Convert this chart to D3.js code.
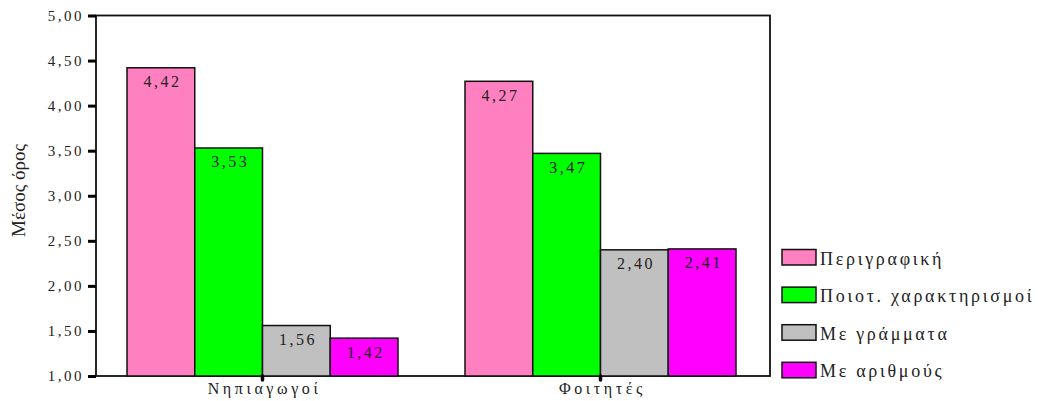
<!DOCTYPE html>
<html>
<head>
<meta charset="utf-8">
<script src="https://cdn.jsdelivr.net/npm/d3@7"></script>
<style>
  body { margin: 0; background: #fff; }
  text { font-family: "Liberation Serif", "DejaVu Serif", serif; fill: #222; }
</style>
</head>
<body>
<svg width="1047" height="401"></svg>
<script>
var categories = ["Νηπιαγωγοί", "Φοιτητές"];
var seriesNames = ["Περιγραφική", "Ποιοτ. χαρακτηρισμοί", "Με γράμματα", "Με αριθμούς"];
var seriesColors = ["#ff80c0", "#00ff00", "#c0c0c0", "#ff00ff"];
var nipiagogoi = [4.42, 3.53, 1.56, 1.42];
var foitites = [4.27, 3.47, 2.40, 2.41];
var yTicks = [1, 1.5, 2, 2.5, 3, 3.5, 4, 4.5, 5];

var values = [nipiagogoi, foitites];
var fmt = function(v) { return v.toFixed(2).replace(".", ","); };

var svg = d3.select("svg");
var plotLeft = 96, plotRight = 770, plotTop = 15.5, plotBottom = 376;

var x0 = d3.scaleBand().domain(categories).range([93.5, 769.5]);
var x1 = d3.scaleBand().domain(d3.range(seriesNames.length)).range([0, 271]);
var y = d3.scaleLinear().domain([1, 5]).range([plotBottom, plotTop]);

// plot frame
svg.append("rect")
    .attr("x", plotLeft).attr("y", plotTop)
    .attr("width", plotRight - plotLeft).attr("height", plotBottom - plotTop)
    .attr("fill", "none").attr("stroke", "#111").attr("stroke-width", 1.8);

// bars
var groups = svg.selectAll("g.grp")
    .data(categories)
    .enter().append("g")
    .attr("class", "grp")
    .attr("transform", function(d) {
        return "translate(" + (x0(d) + x0.bandwidth() / 2 - 135.5) + ",0)";
    });

function rows(d, i) {
    return values[i].map(function(v, j) { return {v: v, j: j}; });
}

groups.selectAll("rect")
    .data(rows)
    .enter().append("rect")
    .attr("x", function(d) { return x1(d.j); })
    .attr("y", function(d) { return y(d.v); })
    .attr("width", x1.bandwidth())
    .attr("height", function(d) { return y(1) - y(d.v); })
    .attr("fill", function(d) { return seriesColors[d.j]; })
    .attr("stroke", "#111")
    .attr("stroke-width", 1.5);

groups.selectAll("text.val")
    .data(rows)
    .enter().append("text")
    .attr("class", "val")
    .attr("x", function(d) { return x1(d.j) + x1.bandwidth() / 2 + 1.5; })
    .attr("y", function(d) { return y(d.v) + 19.5; })
    .attr("text-anchor", "middle")
    .attr("font-size", 16)
    .attr("letter-spacing", 2.5)
    .text(function(d) { return fmt(d.v); });

// y axis
var yAxis = d3.axisLeft(y).tickValues(yTicks).tickFormat(fmt).tickSize(8).tickPadding(6);
var ya = svg.append("g").attr("transform", "translate(" + plotLeft + ",0)").call(yAxis);
ya.select(".domain").remove();
ya.selectAll(".tick line").attr("stroke", "#000").attr("stroke-width", 3);
ya.selectAll(".tick text")
    .attr("font-family", "Liberation Serif, serif")
    .attr("font-size", 15)
    .attr("letter-spacing", 2.5)
    .attr("dx", 2)
    .attr("fill", "#222");

// x axis
var xAxis = d3.axisBottom(x0).tickSize(4).tickPadding(3);
var xa = svg.append("g").attr("transform", "translate(0," + plotBottom + ")").call(xAxis);
xa.select(".domain").remove();
xa.selectAll(".tick line").attr("stroke", "#000").attr("stroke-width", 3.5)
    .attr("stroke-linecap", "round");
xa.selectAll(".tick text")
    .attr("font-family", "Liberation Serif, serif")
    .attr("font-size", 16)
    .attr("letter-spacing", 3.6)
    .attr("dx", 2)
    .attr("fill", "#222");

// y title
svg.append("text")
    .attr("transform", "translate(25,190.5) rotate(-90)")
    .attr("text-anchor", "middle")
    .attr("font-size", 19)
    .text("Μέσος όρος");

// legend
var legend = svg.selectAll("g.leg")
    .data(seriesNames)
    .enter().append("g")
    .attr("class", "leg")
    .attr("transform", function(d, i) { return "translate(782," + (249.5 + i * 37.6) + ")"; });

legend.append("rect")
    .attr("width", 34).attr("height", 15.5)
    .attr("fill", function(d, i) { return seriesColors[i]; })
    .attr("stroke", "#111").attr("stroke-width", 1.5);

legend.append("text")
    .attr("x", 38).attr("y", 15)
    .attr("font-size", 18)
    .attr("letter-spacing", 2.7)
    .text(function(d) { return d; });
</script>
</body>
</html>
